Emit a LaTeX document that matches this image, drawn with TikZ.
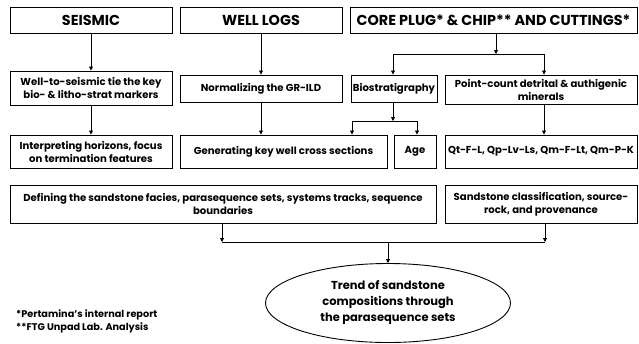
\documentclass[tikz,border=0pt]{standalone}
\usepackage{fontspec}
\setmainfont{Poppins}
\usetikzlibrary{arrows.meta,shapes.geometric}
\begin{document}
\begin{tikzpicture}[x=1pt,y=-1pt,
  box/.style={draw,line width=0.9pt,rectangle,inner sep=0pt,align=center,font=\bfseries\fontsize{10.1}{13}\selectfont},
  head/.style={box,font=\bfseries\fontsize{14.4}{16}\selectfont},
  arr/.style={line width=0.8pt,-{Triangle[length=4pt,width=4pt]}},
  ln/.style={line width=0.8pt}]
\useasboundingbox (0,0) rectangle (639,343);
% headers
\node[head,minimum width=162pt,minimum height=26pt] (seis) at (91,20) {SEISMIC};
\node[head,minimum width=162pt,minimum height=26pt] (well) at (261,20) {WELL LOGS};
\node[head,minimum width=287pt,minimum height=26pt] (core) at (493.5,20) {CORE PLUG* \& CHIP** AND CUTTINGS*};
% second row
\node[box,minimum width=162pt,minimum height=34pt] (tie) at (91,88) {Well-to-seismic tie the key\\bio- \& litho-strat markers};
\node[box,minimum width=162pt,minimum height=27pt] (norm) at (261,88.5) {Normalizing the GR-ILD};
\node[box,minimum width=86pt,minimum height=27pt] (bio) at (394,88.5) {Biostratigraphy};
\node[box,minimum width=192pt,minimum height=29pt] (point) at (541,89.5) {Point-count detrital \& authigenic\\minerals};
% third row
\node[box,minimum width=162pt,minimum height=33pt] (interp) at (91,151.5) {Interpreting horizons, focus\\on termination features};
\node[box,minimum width=207pt,minimum height=33pt] (gen) at (283.5,151.5) {Generating key well cross sections};
\node[box,minimum width=42pt,minimum height=33pt] (age) at (415,151.5) {Age};
\node[box,minimum width=192pt,minimum height=33pt] (qt) at (541,151.5) {Qt-F-L, Qp-Lv-Ls, Qm-F-Lt, Qm-P-K};
% fourth row
\node[box,minimum width=426pt,minimum height=38pt] (def) at (223,204) {Defining the sandstone facies, parasequence sets, systems tracks, sequence\\boundaries};
\node[box,minimum width=192pt,minimum height=38pt] (sand) at (541,204) {Sandstone classification, source-\\rock, and provenance};
% ellipse
\node[draw,line width=0.9pt,ellipse,minimum width=245pt,minimum height=79pt,inner sep=0pt,align=center,font=\bfseries\fontsize{11.5}{16}\selectfont] (trend) at (388,303) {Trend of sandstone\\compositions through\\the parasequence sets};
% footnotes
\node[anchor=west,inner sep=0pt,align=left,font=\bfseries\fontsize{9.7}{13}\selectfont] (notes) at (16,321.5) {*Pertamina's internal report\\**FTG Unpad Lab. Analysis};
% connectors
\draw[arr] (seis) -- (tie);
\draw[arr] (tie) -- (interp);
\draw[arr] (well) -- (norm);
\draw[arr] (norm) -- (gen.north -| norm);
% core split
\coordinate (j1) at (496,54);
\coordinate (bL) at (393,54);
\coordinate (pR) at (544,54);
\draw[arr] (core.south -| j1) -- (j1);
\draw[ln] (bL) -- (pR);
\draw[arr] (bL) -- (bio.north -| bL);
\draw[arr] (pR) -- (point.north -| pR);
% bio split
\coordinate (j2) at (393,121);
\coordinate (gL) at (352,121);
\coordinate (aR) at (417,121);
\draw[arr] (bio.south -| j2) -- (j2);
\draw[ln] (gL) -- (aR);
\draw[arr] (gL) -- (gen.north -| gL);
\draw[arr] (aR) -- (age.north -| aR);
\draw[arr] (point.south -| pR) -- (qt.north -| pR);
% merge
\coordinate (mL) at (222,242);
\coordinate (mR) at (545,242);
\coordinate (mC) at (388,242);
\draw[arr] (def.south -| mL) -- (mL);
\draw[arr] (sand.south -| mR) -- (mR);
\draw[ln] (mL) -- (mR);
\draw[arr] (mC) -- (trend.north);
\end{tikzpicture}
\end{document}
